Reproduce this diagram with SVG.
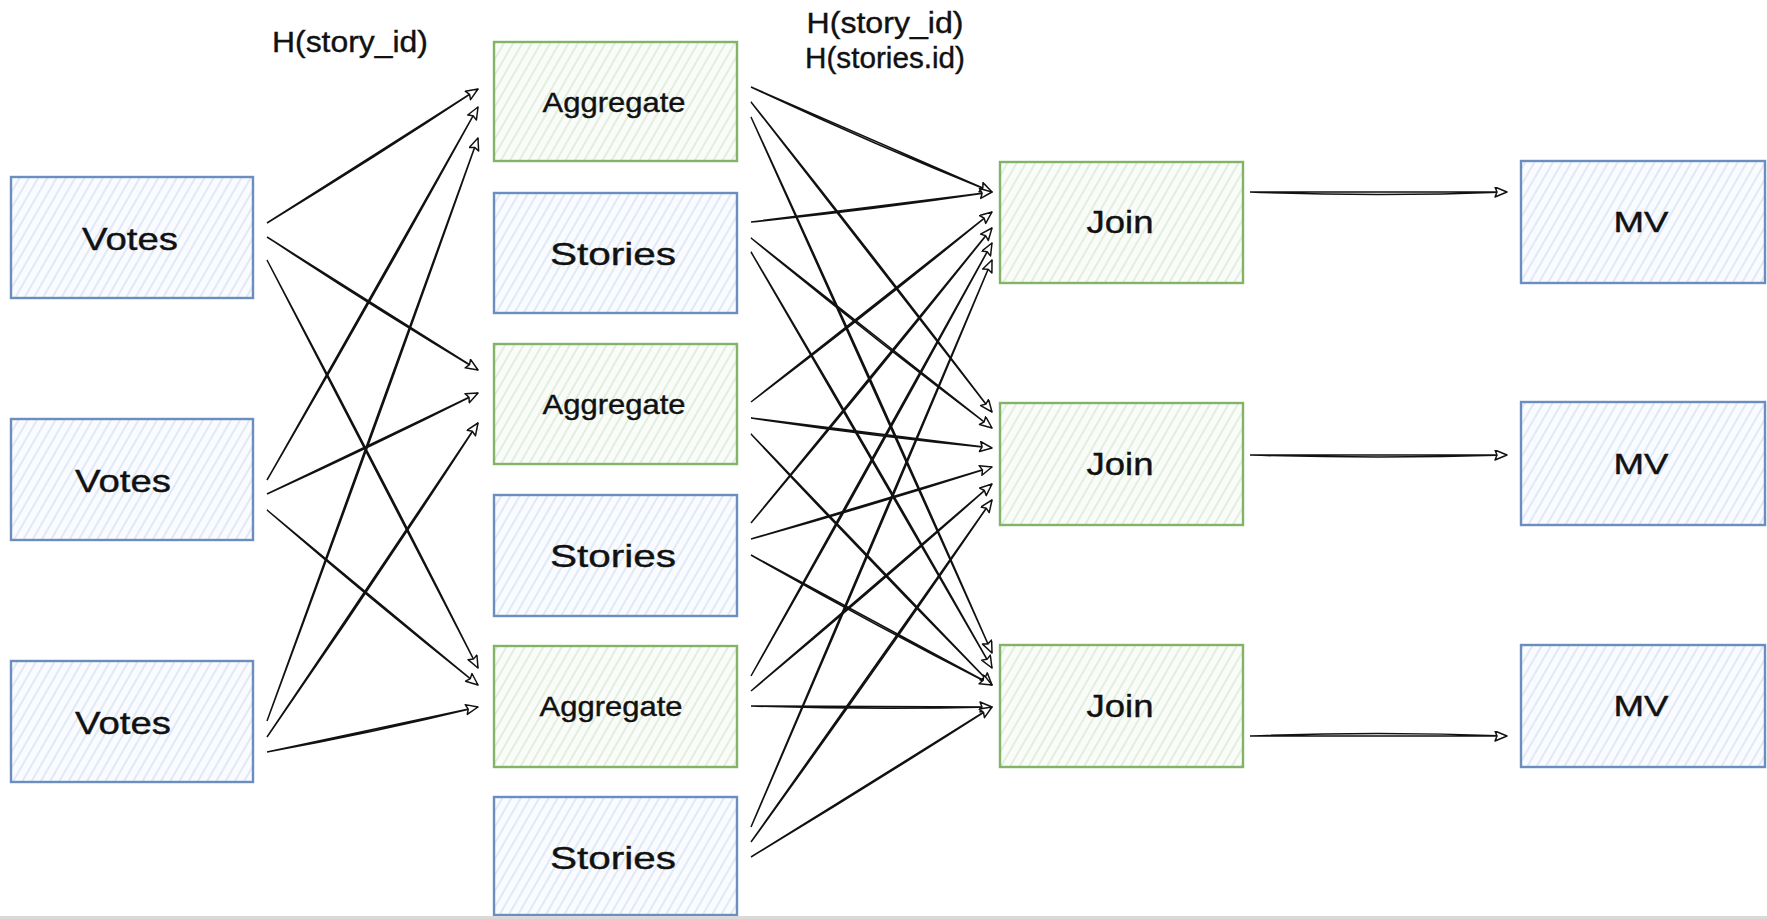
<svg xmlns="http://www.w3.org/2000/svg" width="1767" height="919" viewBox="0 0 1767 919">
<defs>
<pattern id="hb" width="8" height="8" patternUnits="userSpaceOnUse" patternTransform="rotate(30)">
<rect width="8" height="8" fill="#f9fbfe"/>
<line x1="2" y1="0" x2="2" y2="8" stroke="#d3e0f3" stroke-width="1.3"/>
</pattern>
<pattern id="hg" width="8" height="8" patternUnits="userSpaceOnUse" patternTransform="rotate(30)">
<rect width="8" height="8" fill="#fafcf9"/>
<line x1="2" y1="0" x2="2" y2="8" stroke="#d6e7d0" stroke-width="1.3"/>
</pattern>
<marker id="ah" markerUnits="userSpaceOnUse" markerWidth="15" markerHeight="13" refX="13" refY="5.5" orient="auto">
<path d="M1,0.5 L13,5.5 L1,10.5 L3,5.5 Z" fill="#fff" stroke="#111" stroke-width="1.5" stroke-linejoin="round"/>
</marker>
<style>
.b rect{fill:url(#hb);stroke:#6c8ebf;stroke-width:2.4}
.g rect{fill:url(#hg);stroke:#82b366;stroke-width:2.4}
text{font-family:"Liberation Sans",Arial,sans-serif;fill:#111;stroke:#111;stroke-width:0.4;text-anchor:middle}
.lbl{font-size:30px}
.c path{fill:none;stroke:#111;stroke-width:1.5;marker-end:url(#ah)}
</style>
</defs>
<rect x="0" y="0" width="1767" height="919" fill="#fff"/>

<g id="label-left"><text class="lbl" x="350" y="52" textLength="156" lengthAdjust="spacingAndGlyphs">H(story_id)</text></g>
<g id="label-right"><text class="lbl" x="885" y="33" textLength="157" lengthAdjust="spacingAndGlyphs">H(story_id)</text><text class="lbl" x="885" y="68" textLength="160" lengthAdjust="spacingAndGlyphs">H(stories.id)</text></g>

<g id="votes1" class="b"><rect x="11" y="177" width="242" height="121"/><text x="130" y="250" font-size="32" textLength="96" lengthAdjust="spacingAndGlyphs">Votes</text></g>
<g id="votes2" class="b"><rect x="11" y="419" width="242" height="121"/><text x="123" y="492" font-size="32" textLength="96" lengthAdjust="spacingAndGlyphs">Votes</text></g>
<g id="votes3" class="b"><rect x="11" y="661" width="242" height="121"/><text x="123" y="734" font-size="32" textLength="96" lengthAdjust="spacingAndGlyphs">Votes</text></g>

<g id="aggregate1" class="g"><rect x="494" y="42" width="243" height="119"/><text x="614" y="112" font-size="28" textLength="143" lengthAdjust="spacingAndGlyphs">Aggregate</text></g>
<g id="stories1" class="b"><rect x="494" y="193" width="243" height="120"/><text x="613" y="265" font-size="32" textLength="126" lengthAdjust="spacingAndGlyphs">Stories</text></g>
<g id="aggregate2" class="g"><rect x="494" y="344" width="243" height="120"/><text x="614" y="414" font-size="28" textLength="143" lengthAdjust="spacingAndGlyphs">Aggregate</text></g>
<g id="stories2" class="b"><rect x="494" y="495" width="243" height="121"/><text x="613" y="567" font-size="32" textLength="126" lengthAdjust="spacingAndGlyphs">Stories</text></g>
<g id="aggregate3" class="g"><rect x="494" y="646" width="243" height="121"/><text x="611" y="716" font-size="28" textLength="143" lengthAdjust="spacingAndGlyphs">Aggregate</text></g>
<g id="stories3" class="b"><rect x="494" y="797" width="243" height="118"/><text x="613" y="869" font-size="32" textLength="126" lengthAdjust="spacingAndGlyphs">Stories</text></g>

<g id="join1" class="g"><rect x="1000" y="162" width="243" height="121"/><text x="1120" y="233" font-size="32" textLength="67" lengthAdjust="spacingAndGlyphs">Join</text></g>
<g id="join2" class="g"><rect x="1000" y="403" width="243" height="122"/><text x="1120" y="475" font-size="32" textLength="67" lengthAdjust="spacingAndGlyphs">Join</text></g>
<g id="join3" class="g"><rect x="1000" y="645" width="243" height="122"/><text x="1120" y="717" font-size="32" textLength="67" lengthAdjust="spacingAndGlyphs">Join</text></g>

<g id="mv1" class="b"><rect x="1521" y="161" width="244" height="122"/><text x="1641" y="232" font-size="30" textLength="55" lengthAdjust="spacingAndGlyphs">MV</text></g>
<g id="mv2" class="b"><rect x="1521" y="402" width="244" height="123"/><text x="1641" y="474" font-size="30" textLength="55" lengthAdjust="spacingAndGlyphs">MV</text></g>
<g id="mv3" class="b"><rect x="1521" y="645" width="244" height="122"/><text x="1641" y="716" font-size="30" textLength="55" lengthAdjust="spacingAndGlyphs">MV</text></g>

<g id="connectors" class="c">
<path d="M267,223 Q373,159 478,89 M267,223 L478,89"/>
<path d="M267,237 Q371,306 478,370 M267,237 L478,370"/>
<path d="M267,260 Q375,463 478,668 M267,260 L478,668"/>
<path d="M267,480 Q375,295 478,107 M267,480 L478,107"/>
<path d="M267,494 Q373,446 478,393 M267,494 L478,393"/>
<path d="M267,510 Q371,600 478,685 M267,510 L478,685"/>
<path d="M267,721 Q375,430 478,138 M267,721 L478,138"/>
<path d="M267,737 Q375,582 478,423 M267,737 L478,423"/>
<path d="M267,752 Q372,733 478,707 M267,752 L478,707"/>

<path d="M751,87 Q870,143 992,192 M751,87 L992,192"/>
<path d="M751,102 Q874,256 992,412 M751,102 L992,412"/>
<path d="M751,117 Q874,384 992,653 M751,117 L992,653"/>
<path d="M751,222 Q871,210 992,192 M751,222 L992,192"/>
<path d="M751,238 Q870,336 992,428 M751,238 L992,428"/>
<path d="M751,252 Q874,459 992,668 M751,252 L992,668"/>
<path d="M751,402 Q874,309 992,212 M751,402 L992,212"/>
<path d="M751,418 Q871,436 992,448 M751,418 L992,448"/>
<path d="M751,434 Q870,562 992,685 M751,434 L992,685"/>
<path d="M751,523 Q874,377 992,228 M751,523 L992,228"/>
<path d="M751,539 Q871,506 992,467 M751,539 L992,467"/>
<path d="M751,555 Q870,623 992,685 M751,555 L992,685"/>
<path d="M751,676 Q874,461 992,243 M751,676 L992,243"/>
<path d="M751,691 Q874,589 992,484 M751,691 L992,484"/>
<path d="M751,706 Q871,710 992,707 M751,706 L992,707"/>
<path d="M751,827 Q874,544 992,260 M751,827 L992,260"/>
<path d="M751,842 Q874,673 992,500 M751,842 L992,500"/>
<path d="M751,857 Q871,785 992,707 M751,857 L992,707"/>

<path d="M1250,192 Q1378,197 1507,192 M1250,192 L1507,192"/>
<path d="M1250,455 Q1378,459 1507,455 M1250,455 L1507,455"/>
<path d="M1250,736 Q1378,731 1507,736 M1250,736 L1507,736"/>
</g>
<rect x="0" y="916" width="1767" height="3" fill="#d9d9d9"/>
</svg>
